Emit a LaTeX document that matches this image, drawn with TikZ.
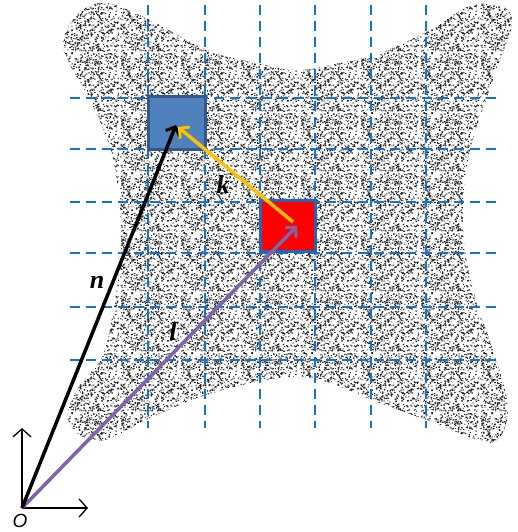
\documentclass[tikz,border=0pt]{standalone}
\usepackage{fontspec}
\setmainfont{Liberation Serif}
\newfontfamily\sansfnt{Liberation Sans}
\usetikzlibrary{arrows.meta,patterns}
\definecolor{gridblue}{RGB}{22,116,206}
\definecolor{sqblue}{RGB}{79,129,189}
\definecolor{sqedge}{RGB}{52,88,140}
\definecolor{rededge}{RGB}{40,100,180}
\definecolor{vecyellow}{RGB}{255,192,0}
\definecolor{vecpurple}{RGB}{128,100,170}
\pgfdeclarepatternformonly{stipple}{\pgfpointorigin}{\pgfpoint{60pt}{60pt}}{\pgfpoint{60pt}{60pt}}{%
  \pgfmathsetseed{23}%
  \foreach \i in {1,...,660}{%
    \pgfmathsetmacro\sx{rnd*59}%
    \pgfmathsetmacro\sy{rnd*59}%
    \pgfmathsetmacro\sw{0.8+rnd*0.9}%
    \pgfmathsetmacro\sh{0.8+rnd*0.7}%
    \pgfpathrectangle{\pgfpoint{\sx pt}{\sy pt}}{\pgfpoint{\sw pt}{\sh pt}}%
    \pgfusepath{fill}%
  }%
}
\tikzset{
  gridline/.style={draw=gridblue, line width=2.6pt, dash pattern=on 10pt off 6pt},
  vec/.style={line width=3.5pt, -{Straight Barb[length=7pt,width=15pt,line width=3pt]}},
  axis/.style={line width=1.3pt, -{Straight Barb[length=8pt,width=18pt,line width=1.3pt]}},
  veclabel/.style={font=\fontsize{26}{30}\selectfont\bfseries\itshape, inner sep=0pt},
  cell/.style={minimum width=57pt, minimum height=52pt, inner sep=0pt, line width=3pt},
}
\begin{document}
\begin{tikzpicture}[x=1pt,y=-1pt]
\useasboundingbox (0,0) rectangle (518,532);
% stippled region
\fill[pattern=stipple, pattern color=black!85]
  plot[smooth cycle, tension=0.55] coordinates {
  (80,12) (107,3) (150,20) (207,50) (260,64) (300,70) (340,63) (380,53)
  (430,30) (472,5) (505,8) (512,25) (500,60) (486,100) (470,150) (463,200)
  (465,250) (476,300) (493,350) (507,400) (504,430) (487,443) (440,425)
  (380,403) (330,383) (295,377) (255,382) (200,397) (150,418) (105,440)
  (80,435) (67,415) (80,385) (103,355) (115,300) (121,250) (119,200)
  (111,150) (90,100) (70,65) (63,40)};
% grid
\foreach \gx in {148,205,260,315,371,426}
  \draw[gridline] (\gx,5) -- (\gx,428);
\foreach \gy in {98,149,202,253,307,360}
  \draw[gridline] (70,\gy) -- (497,\gy);
% cells
\node[cell, fill=sqblue, draw=sqedge] (bluecell) at (177,123) {};
\node[cell, fill=red, draw=rededge, minimum width=55pt, minimum height=51pt] (redcell) at (287.5,225.5) {};
% points
\coordinate (O) at (22,508);
\coordinate (ntip) at (176,125);
\coordinate (kstart) at (293,222);
\coordinate (ktip) at (178,127);
\coordinate (ltip) at (297,226);
\coordinate (yend) at (22,428);
\coordinate (xend) at (88,508);
% axes
\draw[axis] (O) -- (yend);
\draw[axis] (O) -- (xend);
% vectors
\draw[vec, draw=vecpurple] (O) -- (ltip);
\draw[vec, draw=black] (O) -- (ntip);
\draw[vec, draw=vecyellow] (kstart) -- (ktip);
% labels
\node[veclabel] (nlab) at (97,282) {n};
\node[veclabel] (klab) at (223,184) {k};
\node[veclabel] (llab) at (173,331) {l};
\node[font=\sansfnt\itshape\fontsize{19}{22}\selectfont, inner sep=0pt] (olab) at (20,521) {O};
\end{tikzpicture}
\end{document}
